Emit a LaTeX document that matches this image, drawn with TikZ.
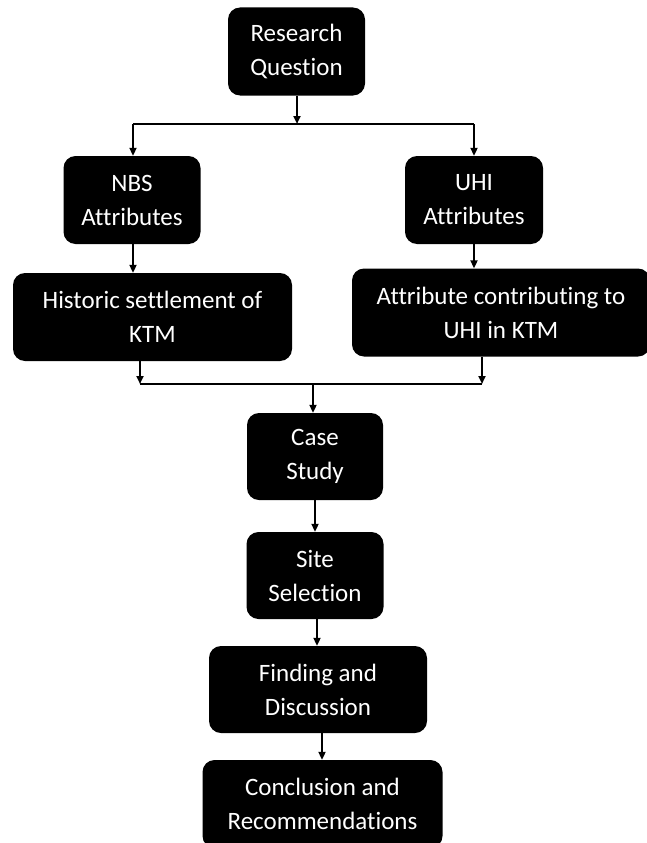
\documentclass[tikz,border=0pt]{standalone}
\usepackage{fontspec}
\setmainfont[Ligatures={NoCommon,NoContextual}]{Carlito}
\usetikzlibrary{arrows.meta}
\begin{document}
\begin{tikzpicture}[x=1pt,y=-1pt,
  box/.style={fill=black, text=white, rounded corners=12pt, align=center,
    inner sep=0pt, minimum height=88pt, font=\fontsize{25}{34}\selectfont},
  link/.style={line width=2pt, draw=black},
  arr/.style={link, -{Triangle[length=8pt,width=7pt]}}]
  \useasboundingbox (0,0) rectangle (646,843);

  % boxes
  \node[box, minimum width=137pt] (rq)    at (296.5,51.5) {Research\\Question};
  \node[box, minimum width=137pt] (nbs)   at (132,200)    {NBS\\Attributes};
  \node[box, minimum width=138pt] (uhi)   at (474,200)    {UHI\\Attributes};
  \node[box, minimum width=279pt] (hist)  at (152.5,317)  {Historic settlement of\\KTM};
  \node[box, minimum width=298pt] (attr)  at (501,312.5)  {Attribute contributing to\\UHI in KTM};
  \node[box, minimum width=136pt, minimum height=87pt] (case)  at (315,456.5)  {Case\\Study};
  \node[box, minimum width=137pt, minimum height=87pt] (site)  at (315,575.5)  {Site\\Selection};
  \node[box, minimum width=218pt, minimum height=87pt] (find)  at (318,689.5)  {Finding and\\Discussion};
  \node[box, minimum width=240pt] (concl) at (322.5,804)  {Conclusion and\\Recommendations};

  % split below the research question
  \coordinate (splitT) at (297,124);
  \coordinate (splitL) at (133,124);
  \coordinate (splitR) at (474,124);
  \draw[arr] (rq.south -| splitT) -- (splitT);
  \draw[link] (splitL) -- (splitR);
  \draw[arr] (splitL) -- (splitL |- nbs.north);
  \draw[arr] (splitR) -- (splitR |- uhi.north);

  \draw[arr] (nbs.south -| splitL) -- (splitL |- hist.north);
  \draw[arr] (uhi.south) -- (uhi.south |- attr.north);

  % merge above the case study
  \coordinate (mergeL) at (140,384);
  \coordinate (mergeR) at (482,384);
  \coordinate (mergeC) at (313,384);
  \draw[arr] (hist.south -| mergeL) -- (mergeL);
  \draw[arr] (attr.south -| mergeR) -- (mergeR);
  \draw[link] (mergeL) -- (mergeR);
  \draw[arr] (mergeC) -- (mergeC |- case.north);

  % main sequence
  \draw[arr] (case.south) -- (case.south |- site.north);
  \draw[arr] ([xshift=2pt]site.south) -- ([xshift=2pt]site.south |- find.north);
  \draw[arr] ([xshift=4pt]find.south) -- ([xshift=4pt]find.south |- concl.north);
\end{tikzpicture}
\end{document}
